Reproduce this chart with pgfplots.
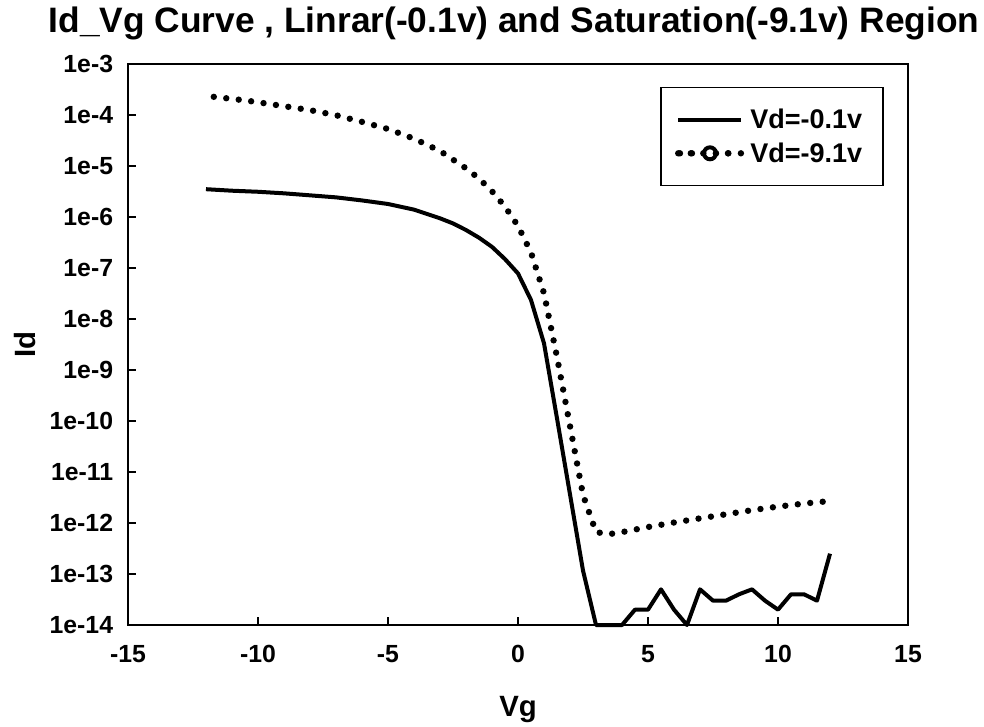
\documentclass[border=0pt]{standalone}
\usepackage{pgfplots}
\usepackage{pgfplotstable}
\pgfplotsset{compat=1.18}
\usepackage{fontspec}
\setmainfont{Liberation Sans}

\pgfplotstableread{
x y
-12 3.47e-6
-11 3.24e-6
-10 3.09e-6
-9 2.88e-6
-8 2.63e-6
-7 2.40e-6
-6 2.09e-6
-5 1.78e-6
-4 1.38e-6
-3 9.33e-7
-2.5 7.41e-7
-2 5.50e-7
-1.5 3.89e-7
-1 2.57e-7
-0.5 1.48e-7
0 7.76e-8
0.5 2.34e-8
1 3.31e-9
1.5 1.12e-10
2 3.63e-12
2.5 1.17e-13
3 1e-14
3.5 1e-14
4 1e-14
4.5 2e-14
5 2e-14
5.5 5e-14
6 2e-14
6.5 1e-14
7 5e-14
7.5 3e-14
8 3e-14
8.5 4e-14
9 5e-14
9.5 3e-14
10 2e-14
10.5 4e-14
11 4e-14
11.5 3e-14
12 2.5e-13
}\soliddata

\pgfplotstableread{
x y
-11.7 2.24e-4
-10.5 1.91e-4
-9.3 1.55e-4
-8 1.23e-4
-7 9.77e-5
-6 7.24e-5
-5 5.25e-5
-4 3.39e-5
-3 1.95e-5
-2 8.91e-6
-1.5 5.62e-6
-1 3.16e-6
-0.5 1.58e-6
0 6.61e-7
0.5 2.00e-7
1 3.16e-8
1.5 1.78e-9
2 7.94e-11
2.5 3.55e-12
3 6.61e-13
3.5 6.03e-13
4 6.61e-13
5 8.32e-13
6 1.02e-12
7 1.23e-12
8 1.48e-12
9 1.78e-12
10 2.09e-12
11 2.40e-12
12 2.69e-12
}\dotdata

\begin{document}
\begin{tikzpicture}
\path[use as bounding box] (-96pt,-75.75pt) rectangle (642pt,468.75pt);
\begin{axis}[
  at={(0,0)}, anchor=south west,
  width=585pt, height=421pt, scale only axis,
  xmin=-15, xmax=15, ymin=1e-14, ymax=1e-3, ymode=log,
  clip=false,
  xtick={-15,-10,-5,0,5,10,15},
  xticklabels={-15,-10,-5,0,5,10,15},
  ytick={1e-14,1e-13,1e-12,1e-11,1e-10,1e-9,1e-8,1e-7,1e-6,1e-5,1e-4,1e-3},
  yticklabels={1e-14,1e-13,1e-12,1e-11,1e-10,1e-9,1e-8,1e-7,1e-6,1e-5,1e-4,1e-3},
  minor tick num=0, yminorticks=false, xminorticks=false,
  xtick pos=bottom, ytick pos=left,
  tick align=inside,
  major tick length=6pt,
  tick style={line width=1.5pt, black},
  axis line style={line width=1.5pt, black},
  xticklabel style={font=\fontsize{18.6}{22}\selectfont\bfseries, inner sep=0pt},
  yticklabel style={font=\fontsize{18.6}{22}\selectfont\bfseries, inner sep=0pt},
  xticklabel shift=15pt,
  yticklabel shift=11pt,
  title={Id\_Vg Curve , Linrar(-0.1v) and Saturation(-9.1v) Region},
  title style={at={(axis description cs:0.4949,1.0404)}, anchor=base, inner sep=0pt,
    font=\fontsize{26.5}{30}\selectfont\bfseries},
  xlabel={Vg},
  xlabel style={at={(axis description cs:0.5,-0.1621)}, anchor=base, inner sep=0pt,
    font=\fontsize{22}{26}\selectfont\bfseries},
  ylabel={Id},
  ylabel style={at={(axis description cs:-0.1324,0.5)}, anchor=center, inner sep=0pt,
    font=\fontsize{22}{26}\selectfont\bfseries},
  legend cell align=left,
  legend style={at={(axis description cs:0.9692,0.9590)}, anchor=north east,
    draw=black, line width=1.2pt, fill=white,
    inner xsep=10.7pt, inner ysep=16.1pt, row sep=9pt, column sep=4.5pt,
    nodes={inner sep=0pt},
    font=\fontsize{20.25}{24}\selectfont\bfseries},
]
\addplot[black, line width=3pt, line join=round,
  legend image code/.code={\draw[solid, line width=3pt] (0pt,0pt) -- (47.25pt,0pt);}]
  table[x=x, y=y] {\soliddata};
\addlegendentry{Vd=-0.1v\hspace*{5pt}}
\addplot[black, line width=4.8pt, line cap=round, dash pattern=on 0pt off 9.4pt,
  legend image code/.code={%
    \draw[line width=4.8pt, line cap=round, dash pattern=on 0pt off 9pt] (1.3pt,0pt) -- (41pt,0pt);
    \draw[solid, line cap=butt, line width=3pt, fill=white] (23.8pt,0pt) circle (4.5pt);
    \path (0pt,0pt) -- (47.25pt,0pt);}]
  table[x=x, y=y] {\dotdata};
\addlegendentry{Vd=-9.1v\hspace*{5pt}}
\end{axis}
\end{tikzpicture}
\end{document}
